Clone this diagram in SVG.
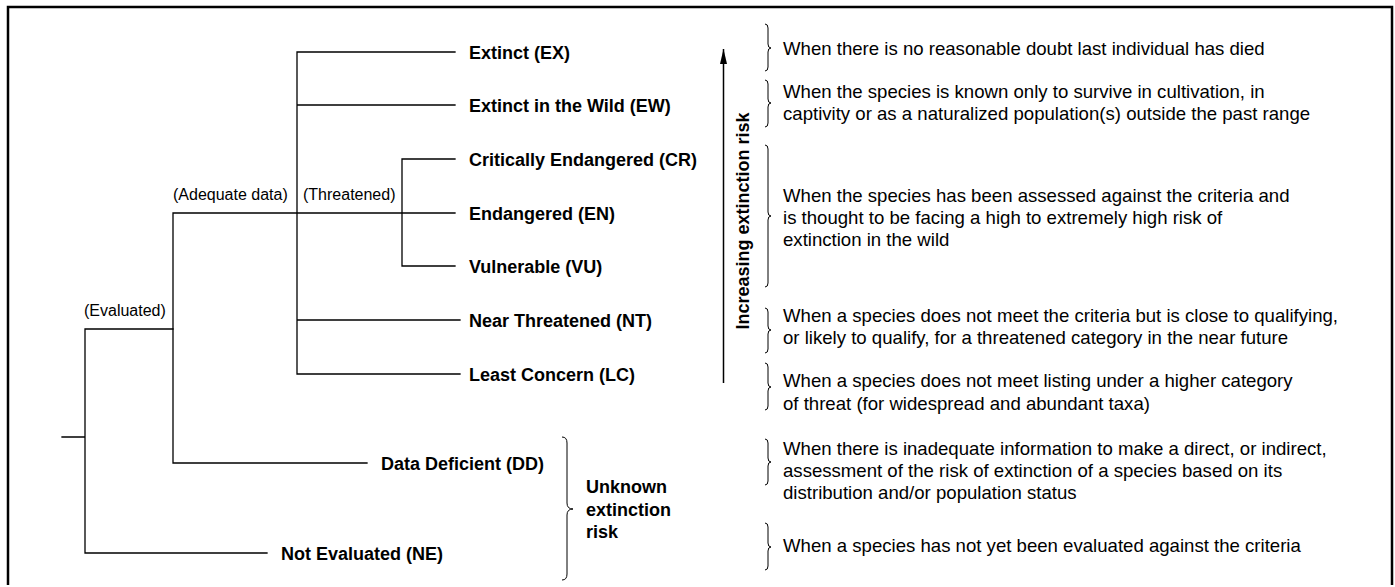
<svg xmlns="http://www.w3.org/2000/svg" width="1395" height="587" viewBox="0 0 1395 587">
<defs>
<style>
.ln{stroke:#000;stroke-width:1.3;fill:none;stroke-linecap:square}
.br{stroke:#000;stroke-width:1;fill:none}
.lab{font-family:"Liberation Sans",Arial,sans-serif;font-size:18px;font-weight:bold;fill:#000}
.sm{font-family:"Liberation Sans",Arial,sans-serif;font-size:16px;fill:#000}
.desc{font-family:"Liberation Sans",Arial,sans-serif;font-size:18.6px;fill:#000}
</style>
<marker id="ah" markerWidth="16" markerHeight="10" refX="15" refY="5" orient="auto" markerUnits="userSpaceOnUse">
<path d="M0,1.5 L15,5 L0,8.5 Z" fill="#000"/>
</marker>
</defs>
<rect width="1395" height="587" fill="#fff"/>
<path d="M8,585 V7 H1392 V585" fill="none" stroke="#000" stroke-width="2.5"/>

<g id="connectors">
<path class="ln" d="M62,437 H85 M85,329 V553 M85,329 H173 M85,553 H267"/>
<path class="ln" d="M173,213 V463 M173,463 H367 M173,213 H455"/>
<path class="ln" d="M297,52 V374 M297,52 H455 M297,105 H455 M297,320 H460 M297,374 H460"/>
<path class="ln" d="M402,159 V266 M402,159 H455 M402,266 H455"/>
</g>

<g id="branch-labels">
<text class="sm" x="84" y="316">(Evaluated)</text>
<text class="sm" x="173" y="200">(Adequate data)</text>
<text class="sm" x="303" y="200">(Threatened)</text>
</g>

<g id="node-ex"><text class="lab" x="469" y="58.5">Extinct (EX)</text></g>
<g id="node-ew"><text class="lab" x="469" y="111.5">Extinct in the Wild (EW)</text></g>
<g id="node-cr"><text class="lab" x="469" y="165.5">Critically Endangered (CR)</text></g>
<g id="node-en"><text class="lab" x="469" y="219.5">Endangered (EN)</text></g>
<g id="node-vu"><text class="lab" x="469" y="272.5">Vulnerable (VU)</text></g>
<g id="node-nt"><text class="lab" x="469" y="326.5">Near Threatened (NT)</text></g>
<g id="node-lc"><text class="lab" x="469" y="380.5">Least Concern (LC)</text></g>
<g id="node-dd"><text class="lab" x="381" y="469.5">Data Deficient (DD)</text></g>
<g id="node-ne"><text class="lab" x="281" y="559.5">Not Evaluated (NE)</text></g>

<g id="unknown-risk">
<path class="br" d="M562,437 Q567,437 567,443 V503 Q567,509 573,509 Q567,509 567,515 V574 Q567,580 562,580"/>
<text class="lab" x="586" y="493">Unknown</text>
<text class="lab" x="586" y="516">extinction</text>
<text class="lab" x="586" y="538">risk</text>
</g>

<g id="risk-axis">
<line x1="723.5" y1="383" x2="723.5" y2="49" stroke="#000" stroke-width="1.5" marker-end="url(#ah)"/>
<text class="lab" transform="translate(749,221) rotate(-90)" text-anchor="middle">Increasing extinction risk</text>
</g>

<g id="desc-ex">
<path class="br" d="M765,24 Q768,24 768,28 V44 Q768,48 771,48 Q768,48 768,52 V67 Q768,71 765,71"/>
<text class="desc" x="783" y="55">When there is no reasonable doubt last individual has died</text>
</g>
<g id="desc-ew">
<path class="br" d="M765,80 Q768,80 768,84 V99 Q768,103 771,103 Q768,103 768,107 V123 Q768,127 765,127"/>
<text class="desc" x="783" y="98">When the species is known only to survive in cultivation, in</text>
<text class="desc" x="783" y="120">captivity or as a naturalized population(s) outside the past range</text>
</g>
<g id="desc-threatened">
<path class="br" d="M765,145 Q768,145 768,149 V212 Q768,216 771,216 Q768,216 768,220 V283 Q768,287 765,287"/>
<text class="desc" x="783" y="202">When the species has been assessed against the criteria and</text>
<text class="desc" x="783" y="224">is thought to be facing a high to extremely high risk of</text>
<text class="desc" x="783" y="246">extinction in the wild</text>
</g>
<g id="desc-nt">
<path class="br" d="M765,308 Q768,308 768,312 V326 Q768,330 771,330 Q768,330 768,334 V349 Q768,353 765,353"/>
<text class="desc" x="783" y="322">When a species does not meet the criteria but is close to qualifying,</text>
<text class="desc" x="783" y="344">or likely to qualify, for a threatened category in the near future</text>
</g>
<g id="desc-lc">
<path class="br" d="M765,363 Q768,363 768,367 V383 Q768,387 771,387 Q768,387 768,391 V406 Q768,410 765,410"/>
<text class="desc" x="783" y="387">When a species does not meet listing under a higher category</text>
<text class="desc" x="783" y="410">of threat (for widespread and abundant taxa)</text>
</g>
<g id="desc-dd">
<path class="br" d="M765,439 Q768,439 768,443 V458 Q768,462 771,462 Q768,462 768,466 V481 Q768,485 765,485"/>
<text class="desc" x="783" y="455">When there is inadequate information to make a direct, or indirect,</text>
<text class="desc" x="783" y="477">assessment of the risk of extinction of a species based on its</text>
<text class="desc" x="783" y="499">distribution and/or population status</text>
</g>
<g id="desc-ne">
<path class="br" d="M765,523 Q768,523 768,527 V543 Q768,547 771,547 Q768,547 768,551 V566 Q768,570 765,570"/>
<text class="desc" x="783" y="552">When a species has not yet been evaluated against the criteria</text>
</g>
</svg>
